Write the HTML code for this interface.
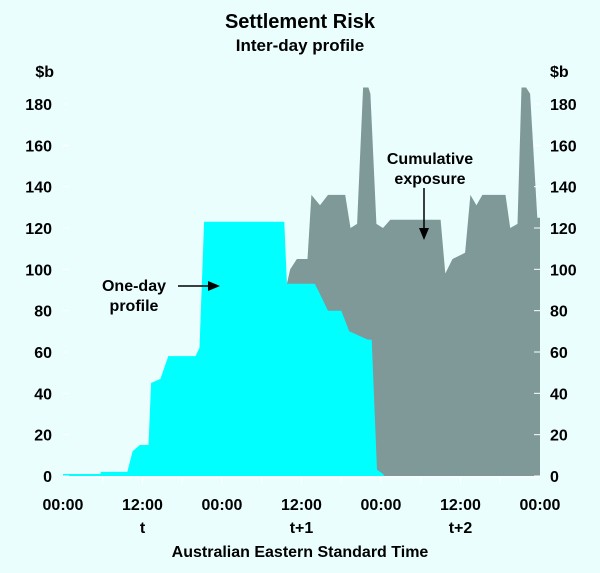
<!DOCTYPE html>
<html><head><meta charset="utf-8"><style>
html,body{margin:0;padding:0;background:#eafefe;}
svg{display:block;font-family:"Liberation Sans",Arial,sans-serif;font-weight:bold;}
</style></head><body>
<svg id="c" width="600" height="573" viewBox="0 0 600 573">
<rect width="600" height="573" fill="#eafefe"/>
<text x="300" y="28" font-size="20" text-anchor="middle">Settlement Risk</text>
<text x="300" y="51" font-size="17" text-anchor="middle">Inter-day profile</text>
<text x="54" y="77" font-size="16" text-anchor="end">$b</text>
<text x="550" y="77" font-size="16">$b</text>
<g id="plot"></g>
<g id="axes"></g>
<text x="134" y="291" font-size="16" text-anchor="middle"><tspan x="134">One-day</tspan><tspan x="134" dy="20">profile</tspan></text>
<line x1="178" y1="286" x2="212" y2="286" stroke="#000" stroke-width="1.5"/>
<polygon points="220,286 208,281 208,291" fill="#000"/>
<text x="430" y="164" font-size="16" text-anchor="middle"><tspan x="430">Cumulative</tspan><tspan x="430" dy="20">exposure</tspan></text>
<line x1="424" y1="188" x2="424" y2="230" stroke="#000" stroke-width="1.5"/>
<polygon points="424,240 419,228 429,228" fill="#000"/>
<text x="300" y="557" font-size="16" text-anchor="middle">Australian Eastern Standard Time</text>
</svg>
<script>
const oneDayHours=[0,5.6,5.7,9.7,10.5,11.6,12.9,13.3,14.7,15.9,20,20.6,21.3,33.4,33.8,38,38.8,40,42,43.2,46,46.6,47.4,48.3,48.5,72];
const oneDayValues=[0,0,2,2,12,15,15,45,47,58,58,62,123,123,93,93,88,80,80,70,66,66,3,1,0,0];
const cumHours=[33.8,34.3,35.3,36.9,37.5,38.8,40,42.6,43.4,44.4,45.3,46.1,46.4,47.3,48.3,49.4,57,57.7,58.8,60.7,61.5,62.4,63.3,66.8,67.5,68.6,69.2,69.9,70.5,71.6,72];
const cumValues=[93,100,105,105,136,131,136,136,120,122,188,188,185,122,120,124,124,98,105,108,136,131,136,136,120,122,188,188,185,125,125];
const yTicks=[0,20,40,60,80,100,120,140,160,180];
const xTickHours=[0,12,24,36,48,60,72];
const xTickLabels=["00:00","12:00","00:00","12:00","00:00","12:00","00:00"];
const dayLabels=["t","t+1","t+2"];
const dayLabelHours=[12,36,60];
const X0=63,X1=540,Y0=476,Y1=104;
const xs=h=>X0+(X1-X0)*h/72;
const ys=v=>Y0-(Y0-Y1)*v/180;
const NS="http://www.w3.org/2000/svg";
const plot=document.getElementById('plot'),axes=document.getElementById('axes');
function area(hs,vs,fill,name){
  let d='M'+xs(hs[0])+','+ys(0);
  for(let i=0;i<hs.length;i++)d+='L'+xs(hs[i]).toFixed(1)+','+ys(vs[i]).toFixed(1);
  d+='L'+xs(hs[hs.length-1])+','+ys(0)+'Z';
  const p=document.createElementNS(NS,'path');
  p.setAttribute('d',d);p.setAttribute('fill',fill);
  
  
  plot.appendChild(p);
}
area(cumHours,cumValues,'#7f9898','cumulative-exposure-area');
area(oneDayHours,oneDayValues,'#00ffff','one-day-profile-area');
const cl=document.createElementNS(NS,'line');
cl.setAttribute('x1',X0);cl.setAttribute('x2',xs(48));cl.setAttribute('y1',Y0-1);cl.setAttribute('y2',Y0-1);
cl.setAttribute('stroke','#00ffff');cl.setAttribute('stroke-width','2');


plot.appendChild(cl);
yTicks.forEach(v=>{
  const y=ys(v);
  [[X0,X0+6],[X1-6,X1]].forEach((a,k)=>{
    const l=document.createElementNS(NS,'line');
    l.setAttribute('x1',a[0]);l.setAttribute('x2',a[1]);l.setAttribute('y1',y);l.setAttribute('y2',y);
    l.setAttribute('stroke','#ffffff');l.setAttribute('stroke-width','1');
    
    
    axes.appendChild(l);
  });
  const t1=document.createElementNS(NS,'text');
  t1.setAttribute('x',52);t1.setAttribute('y',y+6);t1.setAttribute('font-size','16');t1.setAttribute('text-anchor','end');
  t1.textContent=v;
  
  
  axes.appendChild(t1);
  const t2=document.createElementNS(NS,'text');
  t2.setAttribute('x',550);t2.setAttribute('y',y+6);t2.setAttribute('font-size','16');
  t2.textContent=v;
  
  
  axes.appendChild(t2);
});
const base=document.createElementNS(NS,'line');
base.setAttribute('x1',X0);base.setAttribute('x2',X1);base.setAttribute('y1',Y0+1);base.setAttribute('y2',Y0+1);
base.setAttribute('stroke','#ffffff');


axes.appendChild(base);
for(let h=6;h<72;h+=6){
  const l=document.createElementNS(NS,'line');
  l.setAttribute('x1',xs(h));l.setAttribute('x2',xs(h));l.setAttribute('y1',Y0+1);l.setAttribute('y2',Y0+8);
  l.setAttribute('stroke','#ffffff');
  
  
  axes.appendChild(l);
}
xTickHours.forEach((h,i)=>{
  const t=document.createElementNS(NS,'text');
  t.setAttribute('x',xs(h));t.setAttribute('y',510);t.setAttribute('font-size','16');t.setAttribute('text-anchor','middle');
  t.textContent=xTickLabels[i];
  
  
  axes.appendChild(t);
});
dayLabelHours.forEach((h,i)=>{
  const t=document.createElementNS(NS,'text');
  t.setAttribute('x',xs(h));t.setAttribute('y',533);t.setAttribute('font-size','16');t.setAttribute('text-anchor','middle');
  t.textContent=dayLabels[i];
  
  
  axes.appendChild(t);
});
</script>
</body></html>
